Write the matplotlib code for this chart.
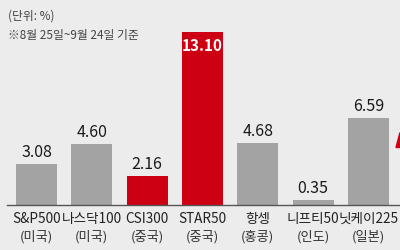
import matplotlib
matplotlib.use("Agg")
import matplotlib.pyplot as plt
from matplotlib.patches import Polygon

plt.rcParams['font.family'] = ['Noto Sans CJK KR', 'DejaVu Sans']

names = ['S&P500', '나스닥100', 'CSI300', 'STAR50', '항셍', '니프티50', '닛케이225']
countries = ['(미국)', '(미국)', '(중국)', '(중국)', '(홍콩)', '(인도)', '(일본)']
values = [3.08, 4.60, 2.16, 13.10, 4.68, 0.35, 6.59]
labels = ['3.08', '4.60', '2.16', '13.10', '4.68', '0.35', '6.59']
is_china = [False, False, True, True, False, False, False]

bg = '#ececec'
gray = '#a3a3a3'
red = '#cc0012'

fig = plt.figure(figsize=(4, 2.5), dpi=100, facecolor=bg)
ax = fig.add_axes([0, 0.18, 1, 0.82])
ax.set_facecolor(bg)
x = list(range(len(values)))
colors = [red if c else gray for c in is_china]
ax.bar(x, values, width=0.74, color=colors, zorder=2)
ax.set_xlim(-0.66, 6.57)
ax.set_ylim(0, 15.5)
ax.axis('off')
ax.plot([-0.53, 6.57], [0, 0], color='#555555', lw=1.0, zorder=3, clip_on=False)

for xi, v, lab, c in zip(x, values, labels, is_china):
    if v > 10:
        ax.text(xi, v - 0.45, lab, ha='center', va='top', color='white',
                fontsize=11, fontweight='bold')
    else:
        ax.text(xi, v + 0.25, lab, ha='center', va='bottom', color='#1a1a1a', fontsize=11.5)

for xi, n, cty in zip(x, names, countries):
    ax.text(xi, -1.06, n, ha='center', va='center', fontsize=9.8, color='#222222')
    ax.text(xi, -2.42, cty, ha='center', va='center', fontsize=9.5, color='#333333')

fig.text(0.02, 0.935, '(단위: %)', fontsize=8.5, color='#444444', ha='left', va='center')
fig.text(0.02, 0.86, '※8월 25일~9월 24일 기준', fontsize=8.5, color='#444444', ha='left', va='center')

fig.patches.append(Polygon([[0.99, 0.41], [1.0, 0.47], [1.0, 0.41]], closed=True,
                           transform=fig.transFigure, color=red))

fig.savefig('out.png', dpi=100, facecolor=bg)
